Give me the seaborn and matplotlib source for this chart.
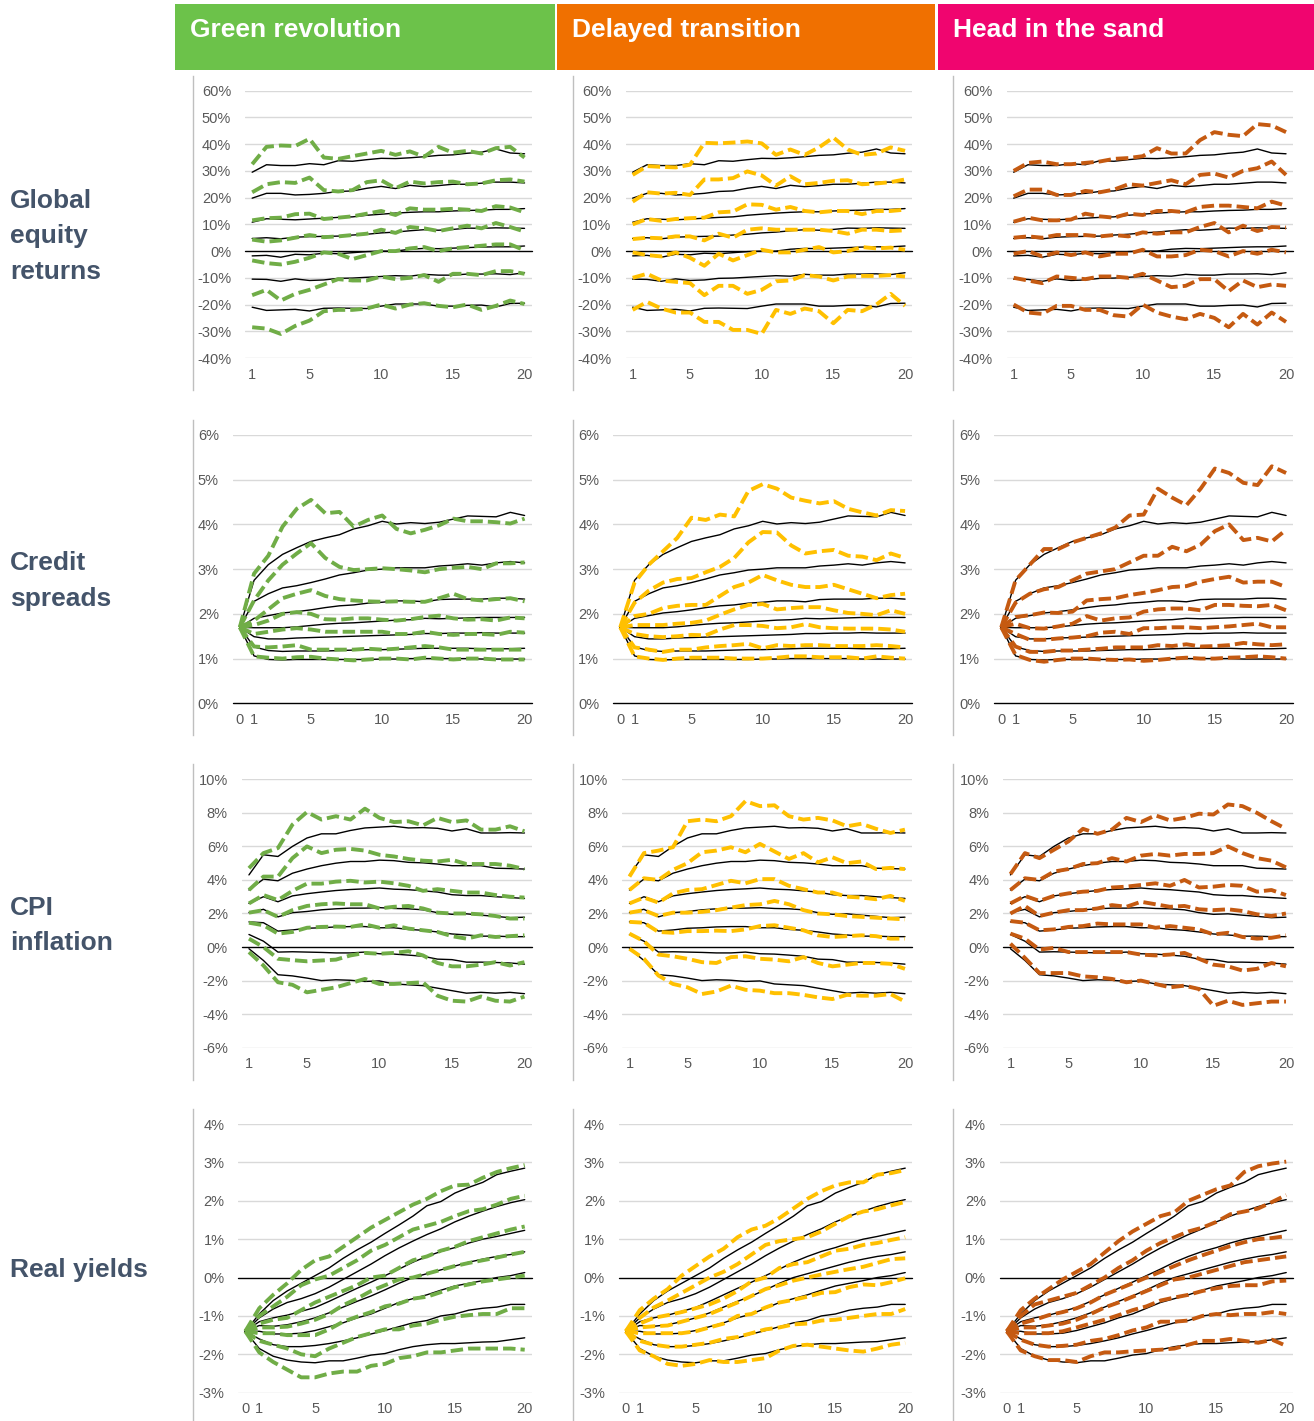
import pandas as pd
import matplotlib.pyplot as plt
import matplotlib.ticker as mticker
from matplotlib.patches import Rectangle
import seaborn as sns

# --- dados (percentis 95, 75, 60, 50, 40, 25, 5 - leitura aproximada do grafico) ---
SCENARIOS = ["Green revolution", "Delayed transition", "Head in the sand"]
HEADER_COLOURS = ["#6CC24A", "#F07000", "#F0056F"]
LINE_COLOURS = ["#70AD47", "#FFC000", "#C55A11"]
ROW_LABELS = ["Global\nequity\nreturns", "Credit\nspreads", "CPI\ninflation", "Real yields"]

YEARS_1 = list(range(1, 21))
YEARS_0 = list(range(0, 21))

# Global equity returns
EQ_BASE = [
    [29.5, 32.3, 32.0, 32.0, 32.7, 32.3, 33.8, 33.6, 34.2, 34.7, 34.6, 34.9, 35.3, 35.8, 36.0, 36.6, 37.0, 38.2, 36.7, 36.4],
    [19.8, 21.6, 21.6, 21.0, 21.2, 21.6, 22.3, 22.5, 23.5, 24.2, 23.4, 24.6, 24.1, 24.5, 25.0, 25.0, 25.4, 25.8, 25.8, 25.5],
    [10.8, 12.1, 11.9, 11.7, 12.0, 12.3, 12.6, 12.8, 13.4, 13.8, 14.2, 14.5, 14.7, 14.7, 15.0, 15.2, 15.3, 15.6, 15.6, 15.9],
    [4.7, 5.0, 4.6, 5.2, 5.4, 5.5, 5.6, 6.0, 6.3, 6.8, 7.1, 7.6, 8.0, 7.8, 8.1, 8.6, 8.5, 8.7, 8.6, 8.5],
    [-1.8, -1.6, -2.3, -1.2, -1.4, -0.8, -1.0, -0.6, -0.2, 0.0, 0.0, 0.7, 1.0, 0.9, 1.1, 1.3, 1.5, 1.6, 1.6, 1.9],
    [-10.5, -10.6, -11.3, -10.4, -11.0, -10.8, -10.2, -10.1, -9.8, -9.5, -9.2, -9.4, -8.7, -9.0, -9.0, -8.6, -8.6, -8.5, -8.8, -8.1],
    [-21.0, -22.2, -22.0, -21.8, -22.4, -21.4, -21.3, -21.4, -21.5, -20.6, -19.8, -19.8, -19.8, -20.6, -20.6, -20.3, -20.2, -20.9, -19.6, -19.5],
]
EQ_GREEN = [
    [32.5, 39.0, 39.5, 39.3, 42.0, 35.0, 34.5, 35.5, 36.5, 37.5, 36.0, 37.3, 35.3, 39.0, 36.8, 37.5, 36.5, 38.5, 39.0, 35.0],
    [22.0, 25.0, 25.8, 25.5, 27.5, 22.8, 22.3, 22.8, 25.8, 26.5, 23.5, 26.0, 25.3, 25.8, 26.0, 25.0, 25.3, 26.5, 26.8, 26.0],
    [11.5, 12.3, 12.5, 13.8, 14.0, 12.0, 12.5, 13.0, 14.0, 15.0, 13.5, 16.0, 15.5, 15.5, 15.8, 15.5, 15.0, 16.8, 16.3, 14.5],
    [4.3, 3.5, 4.0, 5.0, 6.0, 5.2, 5.5, 6.0, 6.5, 8.0, 6.8, 9.0, 8.5, 7.5, 8.5, 9.5, 8.5, 10.5, 9.0, 7.3],
    [-3.5, -4.5, -5.0, -4.0, -2.5, -0.5, -1.0, -3.0, -1.5, 0.0, 0.0, 1.0, 1.5, 0.0, 1.0, 1.5, 2.0, 2.5, 2.5, 0.3],
    [-16.5, -14.5, -18.5, -16.0, -14.5, -12.5, -10.5, -11.0, -11.0, -9.5, -10.5, -10.0, -9.0, -11.5, -8.5, -8.5, -9.0, -7.5, -7.5, -8.5],
    [-28.5, -29.0, -31.0, -28.0, -26.0, -22.5, -22.0, -22.0, -21.5, -20.0, -21.5, -20.0, -19.5, -20.5, -21.0, -20.0, -22.0, -20.5, -18.5, -19.8],
]
EQ_DELAYED = [
    [28.5, 31.8, 31.5, 31.3, 32.3, 40.5, 40.3, 40.6, 41.0, 40.3, 36.0, 38.0, 36.0, 38.8, 42.5, 38.0, 36.0, 36.5, 38.8, 37.5],
    [18.5, 22.0, 21.5, 21.8, 21.0, 26.8, 26.8, 27.3, 29.8, 28.3, 24.5, 28.0, 25.0, 25.5, 26.3, 26.5, 25.0, 25.3, 25.8, 26.8],
    [10.0, 12.0, 11.3, 12.0, 12.3, 12.5, 14.5, 14.8, 17.5, 17.3, 15.5, 16.5, 15.0, 14.5, 15.0, 15.0, 13.8, 15.0, 15.0, 15.5],
    [4.5, 5.0, 4.8, 5.5, 5.5, 4.0, 6.5, 5.0, 8.0, 8.5, 8.0, 8.0, 8.0, 8.0, 7.5, 6.5, 8.0, 8.0, 7.5, 7.8],
    [-0.5, -1.5, -2.0, -0.5, -2.5, -5.5, -1.0, -3.5, -1.5, 0.5, -0.5, -0.5, 0.5, 1.5, -0.5, 0.0, 1.5, 1.0, 1.3, 0.5],
    [-10.0, -8.5, -11.0, -11.5, -12.0, -16.5, -13.0, -13.0, -16.0, -14.5, -11.3, -11.0, -9.0, -9.5, -11.0, -9.5, -9.3, -9.3, -9.0, -9.5],
    [-22.0, -19.0, -21.5, -23.0, -23.0, -26.5, -26.5, -29.5, -29.5, -31.0, -22.0, -23.5, -21.5, -22.5, -27.0, -22.0, -22.5, -20.0, -16.0, -20.5],
]
EQ_SAND = [
    [30.0, 33.0, 33.5, 32.5, 32.5, 33.0, 33.5, 34.5, 34.8, 35.5, 38.5, 36.5, 36.5, 41.5, 44.5, 43.5, 43.0, 47.5, 47.0, 44.5],
    [20.5, 23.0, 23.0, 21.0, 21.0, 22.5, 22.0, 23.0, 25.0, 24.5, 25.5, 26.5, 25.0, 28.5, 29.0, 27.5, 30.0, 31.0, 33.5, 28.5],
    [11.0, 12.5, 11.5, 11.5, 11.8, 14.0, 13.0, 12.5, 14.0, 13.5, 15.0, 15.0, 14.5, 16.5, 17.0, 17.0, 16.5, 16.0, 18.5, 17.0],
    [5.0, 5.5, 5.0, 6.0, 6.0, 6.0, 5.5, 6.0, 5.5, 7.0, 6.5, 7.0, 7.0, 9.0, 10.5, 7.0, 9.5, 7.5, 9.0, 8.8],
    [-1.0, 0.0, -2.0, -0.5, -1.5, -0.5, -2.0, -1.0, -1.0, 0.5, -2.0, -2.0, -1.5, 0.5, 0.0, -2.0, 0.0, -1.0, 0.5, -0.5],
    [-10.0, -11.0, -12.0, -9.5, -10.0, -10.5, -9.5, -9.5, -10.0, -8.5, -11.0, -13.5, -13.0, -10.5, -10.5, -15.0, -11.0, -13.5, -12.5, -13.0],
    [-20.0, -23.0, -23.5, -20.5, -20.5, -22.0, -22.0, -24.0, -24.5, -20.0, -23.0, -24.5, -25.5, -23.5, -25.0, -28.5, -23.5, -27.5, -23.0, -26.5],
]

# Credit spreads
CS_BASE = [
    [1.7, 2.75, 3.10, 3.33, 3.48, 3.62, 3.70, 3.77, 3.90, 3.97, 4.07, 4.01, 4.04, 4.02, 4.05, 4.12, 4.19, 4.18, 4.17, 4.27, 4.20],
    [1.7, 2.28, 2.45, 2.58, 2.63, 2.70, 2.78, 2.87, 2.92, 2.98, 3.00, 3.03, 3.03, 3.03, 3.07, 3.09, 3.12, 3.09, 3.14, 3.17, 3.14],
    [1.7, 1.90, 1.96, 2.02, 2.05, 2.09, 2.14, 2.18, 2.20, 2.24, 2.26, 2.29, 2.29, 2.27, 2.32, 2.33, 2.33, 2.33, 2.35, 2.35, 2.33],
    [1.7, 1.69, 1.69, 1.69, 1.71, 1.74, 1.77, 1.79, 1.80, 1.82, 1.84, 1.86, 1.87, 1.90, 1.89, 1.90, 1.91, 1.92, 1.92, 1.92, 1.92],
    [1.7, 1.49, 1.44, 1.44, 1.46, 1.47, 1.48, 1.49, 1.50, 1.51, 1.52, 1.53, 1.54, 1.56, 1.56, 1.57, 1.57, 1.58, 1.57, 1.57, 1.57],
    [1.7, 1.26, 1.18, 1.16, 1.17, 1.17, 1.17, 1.18, 1.19, 1.20, 1.20, 1.21, 1.22, 1.23, 1.23, 1.23, 1.23, 1.22, 1.22, 1.22, 1.23],
    [1.7, 1.06, 0.98, 0.97, 0.98, 0.98, 0.98, 0.98, 0.98, 0.98, 0.99, 0.99, 1.00, 1.00, 1.00, 1.00, 1.00, 0.99, 0.99, 0.99, 0.99],
]
CS_GREEN = [
    [1.7, 2.90, 3.30, 3.95, 4.35, 4.55, 4.25, 4.28, 3.95, 4.10, 4.20, 3.90, 3.80, 3.88, 3.98, 4.13, 4.07, 4.07, 4.05, 4.02, 4.13],
    [1.7, 2.30, 2.75, 3.10, 3.35, 3.58, 3.25, 3.05, 2.98, 3.00, 3.02, 3.00, 2.97, 2.93, 3.00, 3.03, 3.05, 3.00, 3.13, 3.13, 3.15],
    [1.7, 1.85, 2.10, 2.35, 2.45, 2.53, 2.40, 2.33, 2.30, 2.28, 2.27, 2.28, 2.27, 2.27, 2.35, 2.45, 2.33, 2.30, 2.33, 2.35, 2.28],
    [1.7, 1.75, 1.85, 2.00, 2.04, 2.00, 1.88, 1.87, 1.90, 1.90, 1.87, 1.85, 1.88, 1.93, 1.96, 1.90, 1.87, 1.88, 1.85, 1.92, 1.90],
    [1.7, 1.55, 1.60, 1.65, 1.68, 1.65, 1.60, 1.60, 1.60, 1.60, 1.60, 1.55, 1.55, 1.60, 1.55, 1.53, 1.55, 1.55, 1.53, 1.60, 1.58],
    [1.7, 1.27, 1.25, 1.27, 1.30, 1.20, 1.20, 1.20, 1.20, 1.22, 1.20, 1.22, 1.25, 1.28, 1.25, 1.20, 1.20, 1.20, 1.20, 1.20, 1.20],
    [1.7, 1.05, 1.02, 1.00, 1.03, 1.04, 1.00, 0.98, 0.96, 0.98, 1.00, 1.00, 0.98, 1.02, 1.00, 0.98, 1.00, 1.00, 0.98, 0.98, 0.98],
]
CS_DELAYED = [
    [1.7, 2.70, 3.10, 3.40, 3.70, 4.15, 4.10, 4.22, 4.18, 4.75, 4.90, 4.80, 4.60, 4.53, 4.47, 4.52, 4.35, 4.27, 4.20, 4.32, 4.30],
    [1.7, 2.25, 2.52, 2.70, 2.78, 2.80, 2.93, 3.05, 3.25, 3.60, 3.83, 3.82, 3.53, 3.35, 3.40, 3.43, 3.30, 3.28, 3.20, 3.35, 3.25],
    [1.7, 1.95, 2.00, 2.13, 2.18, 2.20, 2.20, 2.40, 2.60, 2.70, 2.87, 2.75, 2.65, 2.60, 2.60, 2.65, 2.55, 2.45, 2.35, 2.42, 2.45],
    [1.7, 1.75, 1.75, 1.75, 1.78, 1.80, 1.85, 1.98, 2.10, 2.20, 2.22, 2.10, 2.13, 2.15, 2.15, 2.08, 2.02, 2.00, 1.97, 2.08, 2.00],
    [1.7, 1.55, 1.50, 1.48, 1.50, 1.53, 1.52, 1.65, 1.75, 1.75, 1.73, 1.68, 1.70, 1.77, 1.70, 1.68, 1.67, 1.67, 1.67, 1.65, 1.60],
    [1.7, 1.25, 1.20, 1.15, 1.20, 1.20, 1.25, 1.28, 1.30, 1.33, 1.23, 1.30, 1.28, 1.30, 1.30, 1.28, 1.28, 1.28, 1.30, 1.28, 1.25],
    [1.7, 1.05, 1.00, 0.97, 1.00, 1.02, 1.02, 1.02, 1.00, 1.00, 1.00, 1.02, 1.05, 1.05, 1.03, 1.03, 1.03, 1.00, 1.05, 1.02, 1.00],
]
CS_SAND = [
    [1.7, 2.75, 3.10, 3.45, 3.45, 3.60, 3.70, 3.80, 3.93, 4.20, 4.22, 4.80, 4.60, 4.43, 4.80, 5.25, 5.15, 4.93, 4.88, 5.30, 5.15],
    [1.7, 2.25, 2.45, 2.55, 2.60, 2.75, 2.90, 2.95, 3.00, 3.15, 3.30, 3.30, 3.50, 3.40, 3.55, 3.85, 4.00, 3.65, 3.70, 3.62, 3.88],
    [1.7, 1.93, 1.97, 2.03, 2.02, 2.05, 2.30, 2.33, 2.35, 2.42, 2.47, 2.53, 2.60, 2.62, 2.72, 2.78, 2.83, 2.70, 2.72, 2.72, 2.60],
    [1.7, 1.78, 1.68, 1.67, 1.72, 1.78, 1.95, 1.85, 1.90, 1.92, 2.05, 2.10, 2.12, 2.12, 2.08, 2.20, 2.20, 2.18, 2.17, 2.20, 2.08],
    [1.7, 1.55, 1.42, 1.42, 1.45, 1.47, 1.50, 1.58, 1.60, 1.55, 1.68, 1.68, 1.70, 1.70, 1.68, 1.70, 1.72, 1.75, 1.78, 1.70, 1.70],
    [1.7, 1.27, 1.15, 1.15, 1.18, 1.18, 1.20, 1.22, 1.25, 1.25, 1.25, 1.30, 1.28, 1.32, 1.27, 1.28, 1.30, 1.35, 1.32, 1.30, 1.32],
    [1.7, 1.08, 0.97, 0.93, 0.97, 1.00, 1.00, 0.98, 0.97, 0.98, 0.95, 0.97, 1.00, 1.02, 1.00, 1.00, 1.02, 1.03, 1.05, 1.03, 1.00],
]

# CPI inflation
CPI_BASE = [
    [4.30, 5.50, 5.40, 6.00, 6.50, 6.75, 6.75, 6.95, 7.10, 7.15, 7.20, 7.10, 7.12, 7.08, 6.92, 7.05, 6.80, 6.80, 6.82, 6.80],
    [3.40, 4.05, 3.95, 4.40, 4.65, 4.85, 5.00, 5.10, 5.10, 5.18, 5.15, 5.05, 5.02, 4.95, 4.85, 4.85, 4.85, 4.70, 4.68, 4.65],
    [2.60, 3.00, 2.70, 3.05, 3.18, 3.28, 3.37, 3.43, 3.47, 3.52, 3.45, 3.42, 3.35, 3.28, 3.12, 3.07, 3.07, 3.00, 2.95, 2.90],
    [2.05, 2.25, 1.80, 2.05, 2.12, 2.22, 2.28, 2.32, 2.32, 2.35, 2.30, 2.28, 2.22, 2.05, 1.95, 1.98, 1.90, 1.83, 1.75, 1.78],
    [1.50, 1.45, 0.95, 1.02, 1.12, 1.15, 1.20, 1.22, 1.22, 1.15, 1.15, 1.05, 1.00, 0.90, 0.78, 0.72, 0.65, 0.65, 0.62, 0.62],
    [0.75, 0.35, -0.30, -0.28, -0.30, -0.32, -0.35, -0.35, -0.30, -0.40, -0.42, -0.48, -0.55, -0.72, -0.75, -0.90, -0.90, -0.92, -0.95, -1.02],
    [-0.10, -0.80, -1.65, -1.72, -1.85, -2.00, -1.95, -1.98, -2.05, -2.02, -2.20, -2.25, -2.30, -2.45, -2.60, -2.75, -2.70, -2.75, -2.70, -2.78],
]
CPI_GREEN = [
    [4.70, 5.60, 5.90, 7.30, 8.05, 7.60, 7.80, 7.60, 8.25, 7.70, 7.45, 7.50, 7.25, 7.70, 7.45, 7.55, 7.00, 7.00, 7.20, 6.90],
    [3.40, 4.20, 4.20, 5.30, 6.00, 5.60, 5.80, 5.85, 5.75, 5.50, 5.40, 5.25, 5.15, 5.10, 5.20, 4.95, 4.95, 4.95, 4.85, 4.65],
    [2.60, 3.10, 2.80, 3.35, 3.78, 3.78, 3.90, 3.95, 3.85, 3.90, 3.80, 3.65, 3.35, 3.45, 3.35, 3.25, 3.25, 3.10, 3.00, 2.95],
    [2.05, 2.20, 1.80, 2.20, 2.45, 2.55, 2.60, 2.55, 2.55, 2.30, 2.40, 2.45, 2.30, 2.05, 2.00, 2.00, 1.95, 1.85, 1.70, 1.70],
    [1.45, 1.30, 0.80, 0.90, 1.15, 1.20, 1.22, 1.20, 1.35, 1.15, 1.30, 1.10, 1.00, 0.90, 0.65, 0.50, 0.70, 0.60, 0.65, 0.70],
    [0.50, 0.00, -0.70, -0.78, -0.85, -0.80, -0.75, -0.50, -0.35, -0.40, -0.35, -0.25, -0.50, -0.95, -1.15, -1.15, -1.05, -0.90, -1.10, -0.90],
    [-0.30, -1.10, -2.10, -2.25, -2.70, -2.55, -2.40, -2.15, -1.90, -2.20, -2.20, -2.15, -2.10, -2.90, -3.20, -3.25, -2.95, -3.20, -3.25, -2.95],
]
CPI_DELAYED = [
    [4.20, 5.60, 5.75, 5.95, 7.50, 7.60, 7.50, 7.80, 8.70, 8.40, 8.45, 7.80, 7.60, 7.70, 7.55, 7.20, 7.35, 7.05, 6.80, 7.00],
    [3.40, 4.10, 4.00, 4.60, 5.00, 5.65, 5.75, 5.95, 5.65, 6.15, 5.70, 5.25, 5.60, 5.05, 5.35, 5.00, 5.10, 4.65, 4.72, 4.65],
    [2.60, 2.95, 2.65, 3.20, 3.40, 3.45, 3.70, 3.95, 3.80, 4.05, 4.05, 3.65, 3.45, 3.25, 3.25, 3.00, 2.95, 2.85, 3.05, 2.75],
    [2.05, 2.20, 1.85, 2.05, 2.05, 2.10, 2.20, 2.35, 2.50, 2.55, 2.75, 2.55, 2.20, 2.00, 1.95, 1.85, 1.80, 1.75, 1.70, 1.65],
    [1.50, 1.45, 0.90, 0.85, 0.95, 0.95, 0.98, 0.95, 1.05, 1.25, 1.30, 1.15, 1.00, 0.70, 0.60, 0.65, 0.70, 0.65, 0.50, 0.50],
    [0.80, 0.35, -0.45, -0.55, -0.70, -0.90, -0.95, -0.60, -0.55, -0.70, -0.75, -0.85, -0.60, -0.95, -1.15, -1.05, -0.95, -0.95, -1.00, -1.30],
    [-0.10, -0.70, -1.70, -2.20, -2.40, -2.80, -2.65, -2.30, -2.55, -2.60, -2.75, -2.75, -2.85, -3.00, -3.10, -2.85, -2.90, -2.90, -2.80, -3.25],
]
CPI_SAND = [
    [4.35, 5.60, 5.30, 5.80, 6.30, 7.05, 6.75, 7.00, 7.70, 7.45, 7.85, 7.55, 7.70, 7.95, 7.90, 8.50, 8.40, 8.00, 7.50, 7.05],
    [3.40, 4.10, 4.00, 4.50, 4.65, 4.95, 5.00, 5.30, 5.10, 5.45, 5.55, 5.45, 5.55, 5.55, 5.60, 6.00, 5.60, 5.30, 5.15, 4.75],
    [2.60, 3.05, 2.75, 3.05, 3.20, 3.30, 3.35, 3.55, 3.60, 3.70, 3.80, 3.65, 4.00, 3.55, 3.60, 3.70, 3.65, 3.30, 3.40, 3.10],
    [2.00, 2.45, 1.85, 2.05, 2.20, 2.20, 2.30, 2.50, 2.40, 2.70, 2.55, 2.40, 2.45, 2.25, 2.20, 2.25, 2.15, 1.95, 1.85, 2.00],
    [1.55, 1.45, 1.00, 1.05, 1.20, 1.25, 1.40, 1.35, 1.35, 1.35, 1.15, 1.25, 1.15, 1.05, 0.75, 0.85, 0.60, 0.50, 0.55, 0.70],
    [0.80, 0.50, -0.15, -0.05, -0.30, -0.30, -0.30, -0.30, -0.30, -0.45, -0.50, -0.45, -0.35, -0.70, -1.05, -1.15, -1.40, -1.30, -0.95, -1.15],
    [0.20, -0.65, -1.55, -1.55, -1.55, -1.75, -1.80, -1.90, -2.10, -2.00, -2.20, -2.40, -2.30, -2.50, -3.50, -3.20, -3.45, -3.35, -3.25, -3.25],
]

# Real yields
RY_BASE = [
    [-1.4, -0.95, -0.60, -0.35, -0.15, 0.05, 0.25, 0.50, 0.72, 0.92, 1.15, 1.37, 1.60, 1.87, 1.98, 2.20, 2.35, 2.48, 2.68, 2.77, 2.85],
    [-1.4, -1.05, -0.82, -0.65, -0.55, -0.42, -0.25, -0.05, 0.15, 0.35, 0.57, 0.77, 0.95, 1.12, 1.27, 1.45, 1.60, 1.73, 1.85, 1.95, 2.03],
    [-1.4, -1.15, -1.05, -0.98, -0.88, -0.78, -0.62, -0.45, -0.28, -0.12, 0.05, 0.22, 0.40, 0.55, 0.68, 0.78, 0.90, 1.00, 1.07, 1.15, 1.23],
    [-1.4, -1.25, -1.27, -1.23, -1.15, -1.05, -0.92, -0.77, -0.62, -0.48, -0.32, -0.15, 0.00, 0.10, 0.20, 0.30, 0.40, 0.48, 0.55, 0.60, 0.67],
    [-1.4, -1.40, -1.47, -1.47, -1.45, -1.38, -1.28, -1.18, -1.05, -0.95, -0.80, -0.65, -0.55, -0.45, -0.33, -0.22, -0.15, -0.08, 0.00, 0.05, 0.13],
    [-1.4, -1.60, -1.75, -1.80, -1.80, -1.77, -1.72, -1.65, -1.57, -1.47, -1.38, -1.28, -1.18, -1.12, -1.00, -0.95, -0.85, -0.80, -0.77, -0.70, -0.70],
    [-1.4, -1.85, -2.05, -2.15, -2.20, -2.22, -2.17, -2.17, -2.10, -2.02, -1.98, -1.88, -1.80, -1.75, -1.72, -1.72, -1.70, -1.68, -1.67, -1.62, -1.57],
]
RY_GREEN = [
    [-1.4, -0.80, -0.45, -0.15, 0.20, 0.45, 0.55, 0.80, 1.05, 1.30, 1.50, 1.70, 1.90, 2.05, 2.25, 2.40, 2.42, 2.60, 2.75, 2.85, 2.93],
    [-1.4, -1.00, -0.75, -0.50, -0.20, -0.05, 0.05, 0.25, 0.45, 0.70, 0.85, 1.05, 1.25, 1.35, 1.45, 1.60, 1.73, 1.78, 1.90, 2.05, 2.13],
    [-1.4, -1.20, -1.10, -1.05, -0.85, -0.65, -0.50, -0.35, -0.20, 0.00, 0.05, 0.25, 0.45, 0.55, 0.70, 0.80, 0.95, 1.05, 1.15, 1.25, 1.33],
    [-1.4, -1.30, -1.30, -1.28, -1.20, -1.10, -0.95, -0.72, -0.55, -0.35, -0.20, -0.05, 0.00, 0.10, 0.20, 0.30, 0.38, 0.45, 0.52, 0.60, 0.67],
    [-1.4, -1.45, -1.45, -1.50, -1.50, -1.50, -1.35, -1.15, -1.02, -0.90, -0.75, -0.68, -0.55, -0.50, -0.38, -0.25, -0.18, -0.10, -0.05, 0.00, 0.05],
    [-1.4, -1.65, -1.75, -1.85, -2.00, -2.05, -1.85, -1.70, -1.55, -1.45, -1.35, -1.35, -1.25, -1.20, -1.10, -1.02, -0.98, -0.95, -0.95, -0.80, -0.80],
    [-1.4, -1.95, -2.20, -2.40, -2.60, -2.60, -2.50, -2.45, -2.45, -2.30, -2.25, -2.10, -2.05, -1.95, -1.95, -1.90, -1.85, -1.85, -1.85, -1.85, -1.88],
]
RY_DELAYED = [
    [-1.4, -0.85, -0.55, -0.30, 0.05, 0.30, 0.55, 0.75, 1.05, 1.25, 1.35, 1.55, 1.80, 2.05, 2.25, 2.40, 2.48, 2.48, 2.68, 2.72, 2.80],
    [-1.4, -1.05, -0.78, -0.60, -0.40, -0.20, 0.00, 0.15, 0.35, 0.60, 0.85, 0.95, 1.00, 1.05, 1.20, 1.40, 1.60, 1.72, 1.78, 1.88, 1.97],
    [-1.4, -1.20, -1.05, -0.98, -0.90, -0.80, -0.70, -0.55, -0.35, -0.10, 0.00, 0.25, 0.35, 0.40, 0.55, 0.70, 0.75, 0.85, 0.90, 0.98, 1.05],
    [-1.4, -1.30, -1.27, -1.25, -1.15, -1.05, -0.95, -0.80, -0.65, -0.48, -0.30, -0.20, -0.08, 0.00, 0.08, 0.15, 0.22, 0.28, 0.38, 0.48, 0.50],
    [-1.4, -1.45, -1.45, -1.45, -1.45, -1.40, -1.30, -1.20, -1.00, -0.95, -0.78, -0.65, -0.58, -0.50, -0.40, -0.38, -0.25, -0.18, -0.20, -0.12, -0.02],
    [-1.4, -1.65, -1.75, -1.80, -1.80, -1.75, -1.70, -1.60, -1.55, -1.45, -1.35, -1.30, -1.22, -1.20, -1.12, -1.10, -1.05, -1.00, -0.95, -0.95, -0.82],
    [-1.4, -1.90, -2.05, -2.25, -2.30, -2.25, -2.15, -2.20, -2.20, -2.15, -2.10, -1.90, -1.78, -1.75, -1.80, -1.85, -1.90, -1.93, -1.85, -1.75, -1.70],
]
RY_SAND = [
    [-1.4, -0.85, -0.55, -0.30, -0.05, 0.15, 0.35, 0.65, 0.95, 1.20, 1.40, 1.60, 1.70, 2.00, 2.15, 2.30, 2.40, 2.75, 2.90, 2.97, 3.02],
    [-1.4, -1.00, -0.70, -0.60, -0.50, -0.40, -0.20, 0.00, 0.25, 0.45, 0.70, 0.90, 1.05, 1.20, 1.30, 1.45, 1.65, 1.72, 1.80, 1.97, 2.15],
    [-1.4, -1.20, -1.10, -0.98, -0.90, -0.80, -0.65, -0.45, -0.30, -0.15, 0.00, 0.15, 0.30, 0.45, 0.58, 0.70, 0.82, 0.92, 1.00, 1.03, 1.08],
    [-1.4, -1.30, -1.30, -1.25, -1.20, -1.10, -0.95, -0.78, -0.65, -0.50, -0.35, -0.20, -0.05, 0.00, 0.10, 0.20, 0.30, 0.40, 0.45, 0.50, 0.55],
    [-1.4, -1.45, -1.45, -1.45, -1.40, -1.30, -1.20, -1.10, -0.98, -0.85, -0.75, -0.60, -0.52, -0.45, -0.35, -0.28, -0.22, -0.20, -0.20, -0.10, -0.08],
    [-1.4, -1.62, -1.75, -1.80, -1.78, -1.75, -1.65, -1.60, -1.50, -1.38, -1.30, -1.15, -1.15, -1.12, -1.00, -0.95, -0.98, -0.95, -0.95, -0.90, -0.95],
    [-1.4, -1.90, -2.05, -2.15, -2.15, -2.20, -2.05, -1.95, -1.95, -1.92, -1.90, -1.88, -1.85, -1.75, -1.65, -1.65, -1.60, -1.65, -1.70, -1.62, -1.78],
]

ROWS = [
    dict(years=YEARS_1, base=EQ_BASE, scen=[EQ_GREEN, EQ_DELAYED, EQ_SAND],
         ylim=(-40, 60), yticks=list(range(-40, 61, 10)), xticks=[1, 5, 10, 15, 20], xlim=(0.5, 20.5)),
    dict(years=YEARS_0, base=CS_BASE, scen=[CS_GREEN, CS_DELAYED, CS_SAND],
         ylim=(0, 6), yticks=list(range(0, 7)), xticks=[0, 1, 5, 10, 15, 20], xlim=(-0.5, 20.5)),
    dict(years=YEARS_1, base=CPI_BASE, scen=[CPI_GREEN, CPI_DELAYED, CPI_SAND],
         ylim=(-6, 10), yticks=list(range(-6, 11, 2)), xticks=[1, 5, 10, 15, 20], xlim=(0.5, 20.5)),
    dict(years=YEARS_0, base=RY_BASE, scen=[RY_GREEN, RY_DELAYED, RY_SAND],
         ylim=(-3, 4), yticks=list(range(-3, 5)), xticks=[0, 1, 5, 10, 15, 20], xlim=(-0.5, 20.5)),
]

# --- layout (pixels) ---
W, H = 1314, 1421
ROW_TOP = [90.7, 435.0, 779.3, 1124.0]
ROW_BOTTOM = [358.0, 703.3, 1047.7, 1392.7]
ROW_LEFT = [245.0, 232.7, 241.7, 238.3]
COL_OFFSET = [0.0, 380.5, 761.5]
PLOT_RIGHT = 531.7
BORDER_X = [192.7, 572.7, 952.7]


def fx(px):
    return px / W


def fy(py):
    return 1 - py / H


def main():
    sns.set_style("white")
    plt.rcParams['font.family'] = ['Liberation Sans', 'DejaVu Sans']

    fig = plt.figure(figsize=(W / 100, H / 100), dpi=100)

    # cabecalhos coloridos
    for j, (nome, cor) in enumerate(zip(SCENARIOS, HEADER_COLOURS)):
        x0 = [175, 557, 938][j]
        x1 = [555, 935, 1314][j]
        fig.add_artist(Rectangle((fx(x0), fy(70)), fx(x1 - x0), (70 - 4) / H,
                                 transform=fig.transFigure, facecolor=cor, edgecolor='none'))
        fig.text(fx(x0 + 15), fy(30), nome, color='white', fontsize=19,
                 fontweight='bold', va='center', ha='left')

    # rotulos das linhas
    for i, label in enumerate(ROW_LABELS):
        yc = (ROW_TOP[i] + ROW_BOTTOM[i]) / 2 + 12
        fig.text(fx(10), fy(yc), label, color='#44546A', fontsize=19,
                 fontweight='bold', va='center', ha='left', linespacing=1.62)

    for i, row in enumerate(ROWS):
        for j in range(3):
            # borda esquerda do painel
            bg = fig.add_axes([fx(BORDER_X[j]), fy(ROW_BOTTOM[i] + 32),
                               0.01, (ROW_BOTTOM[i] + 32 - ROW_TOP[i] + 15) / H])
            bg.set_facecolor('none')
            for s in ['top', 'right', 'bottom']:
                bg.spines[s].set_visible(False)
            bg.spines['left'].set_color('#BFBFBF')
            bg.spines['left'].set_linewidth(1.0)
            bg.set_xticks([])
            bg.set_yticks([])

            left = ROW_LEFT[i] + COL_OFFSET[j]
            right = PLOT_RIGHT + COL_OFFSET[j]
            ax = fig.add_axes([fx(left), fy(ROW_BOTTOM[i]), (right - left) / W,
                               (ROW_BOTTOM[i] - ROW_TOP[i]) / H])
            ax.set_facecolor('none')

            for yt in row['yticks']:
                if yt == 0:
                    ax.axhline(0, color='black', lw=1.0, zorder=1, clip_on=False)
                else:
                    ax.axhline(yt, color='#D9D9D9', lw=1.0, zorder=0)

            for serie in row['base']:
                sns.lineplot(x=row['years'], y=serie, ax=ax, color='black',
                             linewidth=1.0, errorbar=None, sort=False, zorder=3)
            for serie in row['scen'][j]:
                sns.lineplot(x=row['years'], y=serie, ax=ax, color=LINE_COLOURS[j],
                             linewidth=2.8, linestyle=(0, (3.2, 1.3)), errorbar=None,
                             sort=False, zorder=4)

            ax.set_xlim(*row['xlim'])
            ax.set_ylim(*row['ylim'])
            ax.set_xticks(row['xticks'])
            ax.set_yticks(row['yticks'])
            ax.yaxis.set_major_formatter(mticker.FuncFormatter(lambda v, p: f"{v:.0f}%"))
            ax.tick_params(length=0, labelsize=10.5, labelcolor='#595959')
            ax.tick_params(axis='y', pad=10)
            ax.tick_params(axis='x', pad=7)
            for s in ax.spines.values():
                s.set_visible(False)
            ax.set_xlabel('')
            ax.set_ylabel('')

    fig.savefig('out.png', dpi=100)


if __name__ == "__main__":
    main()
